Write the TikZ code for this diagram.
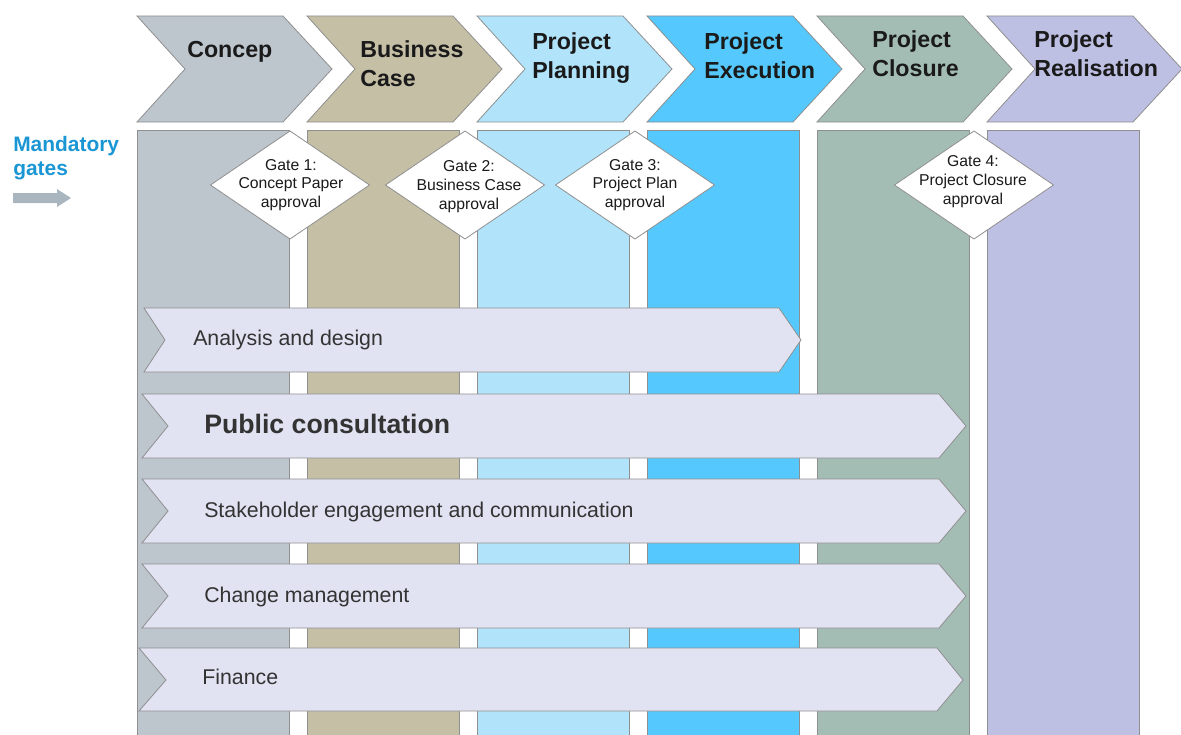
\documentclass[tikz,border=0pt]{standalone}
\usepackage{fontspec}
\setmainfont{Liberation Sans}
\definecolor{phConcept}{HTML}{BDC5CD}
\definecolor{phBusiness}{HTML}{C5BFA6}
\definecolor{phPlanning}{HTML}{B1E4FB}
\definecolor{phExecution}{HTML}{55C9FD}
\definecolor{phClosure}{HTML}{A3BDB4}
\definecolor{phRealisation}{HTML}{BEC0E3}
\definecolor{bandfill}{HTML}{E1E3F3}
\definecolor{edgegray}{HTML}{8F8F8F}
\definecolor{gatearrow}{HTML}{A9B6C0}
\definecolor{gateblue}{HTML}{1A96D4}
\definecolor{headtext}{HTML}{1A1A1A}
\definecolor{bandtext}{HTML}{333333}
\begin{document}
\begin{tikzpicture}[x=0.75pt,y=-0.75pt,
  outline/.style={draw=edgegray,line width=0.6pt},
  phasetitle/.style={anchor=base west,inner sep=0pt,text=headtext,
    font=\fontsize{17.4}{21}\selectfont\bfseries},
  gatebox/.style={outline,fill=white},
  gatetext/.style={align=center,inner sep=0pt,text=headtext,
    font=\fontsize{11.8}{14}\selectfont},
  bandbox/.style={outline,fill=bandfill},
  bandlabel/.style={anchor=base west,inner sep=0pt,text=bandtext,
    font=\fontsize{16}{19}\selectfont},
  bandlabelbold/.style={bandlabel,font=\fontsize{20}{24}\selectfont\bfseries}]
\useasboundingbox (0,0) rectangle (1181,735);
\clip (0,0) rectangle (1181,735);

% phase columns and header chevrons
\foreach \i/\col in {0/phConcept,1/phBusiness,2/phPlanning,3/phExecution,4/phClosure,5/phRealisation}{
  \pgfmathsetmacro\L{137+170*\i}
  \fill[\col] (\L,130) rectangle ({\L+152},740);
  \draw[outline] (\L,740) -- (\L,130) -- ({\L+152},130) -- ({\L+152},740);
  \draw[outline,fill=\col] (\L,16) -- ({\L+146},16) -- ({\L+195},69)
    -- ({\L+146},122) -- (\L,122) -- ({\L+48},69) -- cycle;
}

% phase titles
\node[phasetitle] (t1) at (187,58) {Concep};
\node[phasetitle] (t2a) at (360,58) {Business};
\node[phasetitle] (t2b) at (360,86.5) {Case};
\node[phasetitle] (t3a) at (532,50) {Project};
\node[phasetitle] (t3b) at (532,78.5) {Planning};
\node[phasetitle] (t4a) at (704,50) {Project};
\node[phasetitle] (t4b) at (704,78.5) {Execution};
\node[phasetitle] (t5a) at (872,48) {Project};
\node[phasetitle] (t5b) at (872,76) {Closure};
\node[phasetitle] (t6a) at (1034,48) {Project};
\node[phasetitle] (t6b) at (1034,76) {Realisation};

% mandatory gates legend
\node[anchor=base west,inner sep=0pt,text=gateblue,
  font=\fontsize{15.7}{18}\selectfont\bfseries] (mg1) at (13,151.5) {Mandatory};
\node[anchor=base west,inner sep=0pt,text=gateblue,
  font=\fontsize{15.7}{18}\selectfont\bfseries] (mg2) at (13,175) {gates};
\fill[gatearrow] (13,193) -- (57,193) -- (57,189) -- (71,198) -- (57,207)
  -- (57,203) -- (13,203) -- cycle;

% gates
\foreach \cx in {290,465,635,974}{
  \draw[gatebox] (\cx-79.5,185) -- (\cx,131) -- (\cx+79.5,185) -- (\cx,239) -- cycle;
}
\node[gatetext] (g1) at (291,185) {Gate 1:\\Concept Paper\\approval};
\node[gatetext] (g2) at (469,186.5) {Gate 2:\\Business Case\\approval};
\node[gatetext] (g3) at (635,185) {Gate 3:\\Project Plan\\approval};
\node[gatetext] (g4) at (973,181.5) {Gate 4:\\Project Closure\\approval};

% work streams
\draw[bandbox] (144,308) -- (779,308) -- (801,340) -- (779,372) -- (144,372)
  -- (165,340) -- cycle;
\foreach \t in {394,479,564}{
  \draw[bandbox] (142,\t) -- (939,\t) -- (966,\t+32) -- (939,\t+64) -- (142,\t+64)
    -- (168,\t+32) -- cycle;
}
\draw[bandbox] (139,648) -- (937,648) -- (963,680) -- (937,711) -- (139,711)
  -- (166,680) -- cycle;

\node[bandlabel] (b1) at (193,345) {Analysis and design};
\node[bandlabelbold] (b2) at (204,433) {Public consultation};
\node[bandlabel] (b3) at (204,517) {Stakeholder engagement and communication};
\node[bandlabel] (b4) at (204,602) {Change management};
\node[bandlabel] (b5) at (202,684) {Finance};
\end{tikzpicture}
\end{document}
